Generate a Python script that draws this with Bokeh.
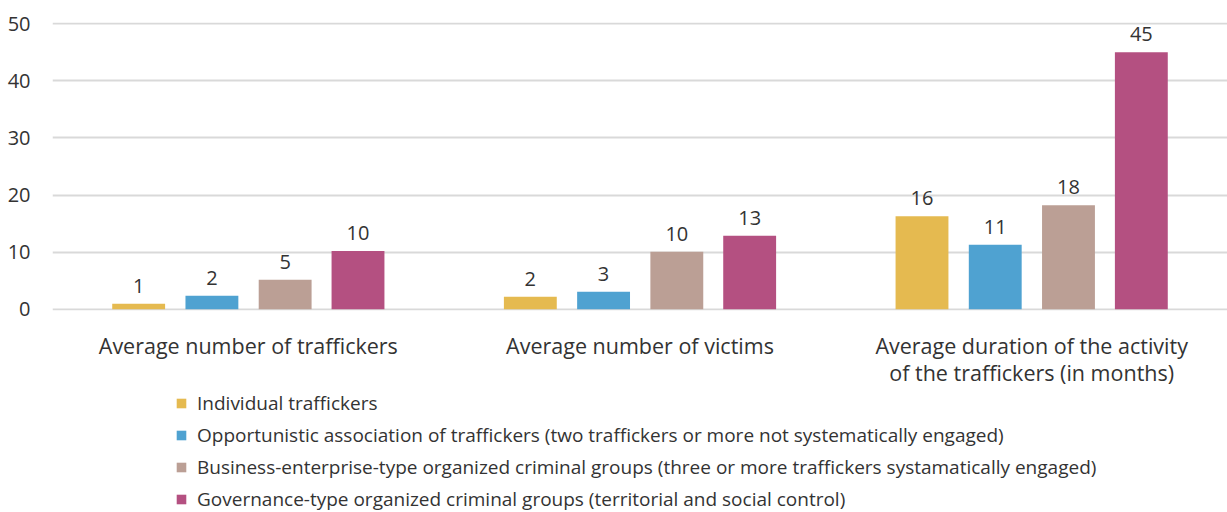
from bokeh.plotting import figure
from bokeh.layouts import column
from bokeh.models import FactorRange, Range1d, Legend, LegendItem, ColumnDataSource, FixedTicker
from bokeh.transform import dodge
from bokeh.core.properties import value
from bokeh.embed import file_html
from bokeh.resources import INLINE

categories = [
    "Average number of traffickers",
    "Average number of victims",
    "Average duration of the activity\nof the traffickers (in months)",
]
series_names = [
    "Individual traffickers",
    "Opportunistic association of traffickers (two traffickers or more not systematically engaged)",
    "Business-enterprise-type organized criminal groups (three or more traffickers systamatically engaged)",
    "Governance-type organized criminal groups (territorial and social control)",
]
individual = [1.0, 2.2, 16.3]
opportunistic = [2.4, 3.1, 11.3]
business = [5.2, 10.1, 18.2]
governance = [10.2, 12.9, 45.0]
y_ticks = [0, 10, 20, 30, 40, 50]

colors = ["#E5BA50", "#4FA2D1", "#BB9F95", "#B45081"]
offsets = [-0.28, -0.093, 0.094, 0.28]
FONT = "Open Sans"
TXT = "#333333"

series_vals = [individual, opportunistic, business, governance]
data = dict(cat=categories)
for i, vals in enumerate(series_vals):
    data[f"v{i}"] = vals
    data[f"l{i}"] = [str(int(round(v))) for v in vals]
source = ColumnDataSource(data)

p = figure(
    x_range=FactorRange(*categories, range_padding=0),
    y_range=Range1d(-0.2, 50.2),
    width=1227, height=390,
    output_backend="svg", toolbar_location=None,
    min_border_left=52, min_border_right=0, min_border_top=22, min_border_bottom=78,
)
p.outline_line_color = None
p.background_fill_color = None
p.border_fill_color = None

for i, name in enumerate(series_names):
    p.vbar(x=dodge("cat", offsets[i], range=p.x_range), top=f"v{i}", width=0.135,
           source=source, fill_color=colors[i], line_color=None)
    p.text(x=dodge("cat", offsets[i], range=p.x_range), y=f"v{i}", text=f"l{i}", source=source,
           text_align="center", text_baseline="alphabetic", y_offset=-18,
           text_font_size="20px", text_color=TXT, text_font=value(FONT))

p.yaxis.ticker = FixedTicker(ticks=y_ticks)
p.yaxis.axis_line_color = None
p.yaxis.major_tick_line_color = None
p.yaxis.minor_tick_line_color = None
p.yaxis.major_tick_out = 0
p.yaxis.major_label_standoff = 22
p.yaxis.major_label_text_font = FONT
p.yaxis.major_label_text_font_size = "20px"
p.yaxis.major_label_text_color = TXT

p.ygrid.ticker = FixedTicker(ticks=y_ticks)
p.ygrid.grid_line_color = "#D9D9D9"
p.ygrid.grid_line_width = 2
p.xgrid.grid_line_color = None

p.xaxis.axis_line_color = None
p.xaxis.major_tick_line_color = None
p.xaxis.major_tick_out = 0
p.xaxis.major_label_standoff = 20
p.xaxis.major_label_text_font = FONT
p.xaxis.major_label_text_font_size = "21.5px"
p.xaxis.major_label_text_color = TXT
p.xaxis.major_label_text_line_height = 0.96

# legend panel (same data, bars kept outside its visible y range)
lg = figure(width=1227, height=122, x_range=FactorRange(*categories, range_padding=0),
            y_range=Range1d(1000, 1001),
            output_backend="svg", toolbar_location=None,
            min_border=0, x_axis_location=None, y_axis_location=None)
lg.outline_line_color = None
lg.xgrid.grid_line_color = None
lg.ygrid.grid_line_color = None
lg.background_fill_color = None
lg.border_fill_color = None

items = []
for i, name in enumerate(series_names):
    r = lg.vbar(x=dodge("cat", offsets[i], range=lg.x_range), top=f"v{i}", width=0.135,
                source=source, fill_color=colors[i], line_color=None)
    items.append(LegendItem(label=name, renderers=[r], index=0))

legend = Legend(items=items, location=(123, 0), orientation="vertical",
                border_line_color=None, background_fill_alpha=0,
                glyph_width=12, glyph_height=12, label_standoff=10,
                label_text_font=FONT, label_text_font_size="19px", label_text_color=TXT,
                label_height=20, spacing=6, padding=0, margin=0)
lg.add_layout(legend, "center")

layout = column(p, lg, spacing=0)
open("out.html", "w").write(file_html(layout, INLINE))
